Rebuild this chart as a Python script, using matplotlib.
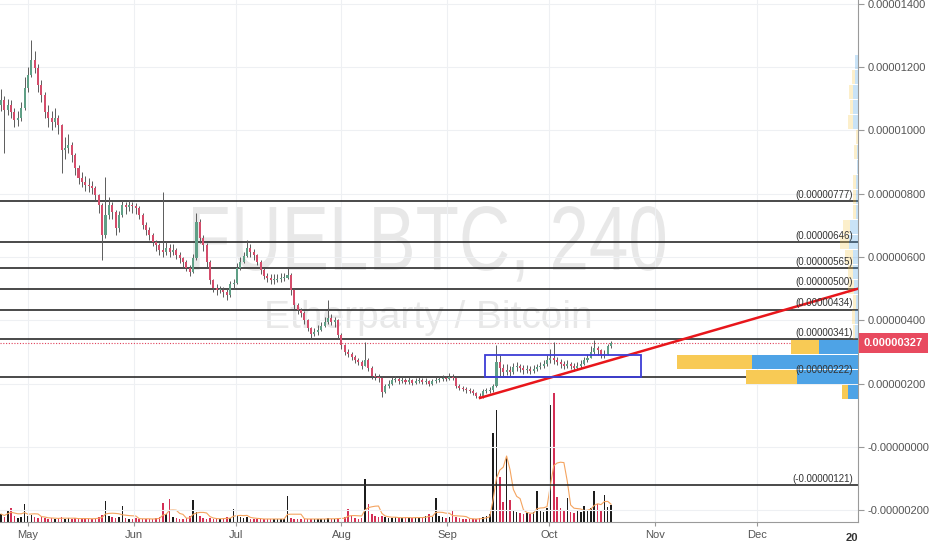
import numpy as np
import pandas as pd
import matplotlib
matplotlib.use('Agg')
import matplotlib.pyplot as plt
import matplotlib.dates as mdates
import matplotlib.transforms as mtransforms
from matplotlib.font_manager import FontProperties
from matplotlib.textpath import TextPath
from matplotlib.patches import Rectangle, PathPatch

plt.rcParams['font.family'] = ['Liberation Sans', 'DejaVu Sans']

# daily candles, FUEL/BTC in satoshi
first_open = 1080
closes = [1096, 1065, 1081, 1058, 1033, 1039, 1071, 1134, 1175, 1223,
          1197, 1144, 1112, 1058, 1039, 1027, 1039, 1017, 938, 945,
          954, 923, 881, 850, 837, 828, 825, 818, 796, 765,
          670, 733, 765, 742, 692, 733, 765, 758, 765, 761,
          755, 733, 701, 686, 670, 648, 638, 622, 616, 629,
          616, 622, 607, 597, 585, 566, 553, 597, 711, 660,
          638, 585, 528, 502, 496, 496, 490, 480, 515, 518,
          566, 585, 603, 629, 616, 607, 585, 559, 540, 534,
          528, 528, 531, 534, 534, 543, 496, 449, 433, 423,
          401, 376, 357, 363, 370, 382, 395, 408, 395, 401,
          354, 322, 300, 294, 284, 275, 269, 256, 275, 250,
          224, 221, 218, 174, 193, 199, 212, 215, 209, 212,
          205, 212, 202, 209, 212, 205, 209, 199, 209, 212,
          215, 218, 215, 221, 218, 193, 186, 183, 180, 177,
          171, 161, 158, 177, 177, 180, 193, 269, 250, 237,
          243, 237, 253, 256, 250, 243, 246, 240, 246, 253,
          256, 262, 275, 281, 275, 269, 262, 256, 262, 256,
          250, 256, 262, 275, 281, 300, 313, 306, 291, 294,
          319, 327]
highs = [1130, 1110, 1100, 1095, 1070, 1060, 1090, 1170, 1200, 1286,
         1250, 1210, 1160, 1120, 1080, 1060, 1070, 1050, 1020, 980,
         990, 965, 930, 890, 870, 855, 850, 840, 825, 800,
         770, 853, 790, 775, 750, 745, 780, 775, 780, 775,
         770, 760, 740, 710, 695, 675, 655, 645, 806, 650,
         640, 640, 630, 615, 600, 590, 575, 610, 740, 720,
         670, 645, 590, 530, 515, 510, 505, 500, 525, 530,
         580, 600, 615, 654, 640, 625, 610, 590, 565, 550,
         545, 545, 545, 550, 550, 566, 550, 500, 455, 440,
         430, 405, 380, 375, 385, 395, 410, 464, 420, 410,
         405, 360, 325, 310, 300, 290, 280, 275, 332, 280,
         255, 235, 230, 220, 200, 210, 220, 225, 222, 222,
         218, 220, 215, 218, 220, 218, 218, 212, 215, 222,
         225, 228, 225, 235, 230, 220, 198, 192, 188, 185,
         182, 175, 170, 182, 185, 188, 200, 322, 290, 262,
         262, 255, 265, 270, 262, 258, 258, 255, 258, 262,
         268, 275, 290, 310, 332, 285, 278, 272, 275, 270,
         265, 268, 275, 285, 295, 320, 338, 320, 310, 305,
         325, 336]
lows = [1060, 929, 1050, 1040, 1010, 1015, 1030, 1065, 1120, 1170,
        1180, 1120, 1090, 1040, 1010, 1000, 1010, 990, 866, 910,
        930, 900, 860, 830, 820, 810, 805, 800, 780, 740,
        591, 660, 720, 720, 670, 680, 725, 735, 745, 740,
        735, 720, 690, 670, 655, 635, 620, 605, 600, 605,
        600, 605, 595, 580, 570, 555, 540, 550, 590, 645,
        620, 570, 515, 490, 480, 485, 475, 465, 475, 500,
        515, 560, 580, 600, 600, 590, 575, 545, 530, 520,
        515, 515, 520, 520, 525, 530, 480, 435, 420, 410,
        390, 365, 345, 350, 355, 365, 380, 390, 385, 380,
        340, 310, 290, 285, 275, 265, 260, 245, 255, 240,
        215, 210, 205, 158, 170, 185, 195, 205, 200, 202,
        198, 200, 195, 198, 202, 198, 200, 192, 195, 202,
        205, 208, 208, 210, 210, 185, 180, 176, 172, 170,
        165, 155, 154, 155, 170, 172, 175, 190, 225, 225,
        228, 225, 232, 240, 238, 232, 235, 230, 235, 240,
        245, 248, 255, 265, 262, 258, 250, 245, 250, 245,
        240, 245, 250, 258, 268, 280, 295, 290, 280, 282,
        290, 312]
volumes = [8, 5, 12, 14, 6, 4, 5, 18, 6, 7,
           5, 4, 5, 4, 3, 4, 3, 4, 5, 3,
           4, 3, 4, 3, 3, 4, 3, 3, 4, 5,
           7, 21, 6, 5, 4, 5, 16, 4, 3, 3,
           4, 3, 3, 3, 3, 3, 4, 5, 19, 8,
           23, 5, 4, 3, 3, 4, 6, 22, 10, 6,
           4, 3, 4, 3, 3, 3, 4, 5, 4, 13,
           6, 5, 4, 5, 3, 3, 3, 3, 3, 3,
           3, 3, 3, 3, 3, 26, 4, 3, 3, 3,
           3, 3, 3, 3, 3, 3, 3, 4, 3, 3,
           4, 4, 5, 13, 6, 4, 3, 4, 43, 18,
           8, 6, 5, 6, 5, 4, 4, 5, 4, 4,
           5, 4, 4, 5, 4, 5, 6, 8, 5, 24,
           6, 5, 4, 5, 12, 5, 4, 3, 3, 3,
           3, 3, 4, 5, 6, 8, 89, 112, 45, 20,
           64, 22, 12, 10, 9, 8, 9, 8, 10, 31,
           12, 10, 14, 117, 129, 25, 14, 12, 24, 10,
           9, 12, 10, 16, 12, 14, 31, 18, 12, 27,
           15, 17]

# drawn levels (satoshi) and last price
levels = [777, 646, 565, 500, 434, 341, 222, -121]
last_price = 327
trend_start = ('2017-09-10 16:00', 155)
trend_end = ('2017-12-30 14:00', 500)
box_dates = ('2017-09-12 03:00', '2017-10-27 22:00')
box_prices = (221, 291)

# visible range volume profile (rows bottom -> top)
profile_low, profile_high = 150, 1287
profile_up = [6, 51, 75, 28, 2, 3, 3, 6, 5, 8, 9, 7, 3, 3, 3, 0, 3, 2, 5, 3, 4, 3, 0, 0]
profile_down = [10, 61, 106, 39, 3, 3, 2, 4, 5, 5, 9, 8, 2, 2, 2, 1, 1, 0, 5, 5, 5, 3, 3, 0]
value_area = [0, 1, 2, 3]

months = ['2017-05-01', '2017-06-01', '2017-07-01', '2017-08-01', '2017-09-01',
          '2017-10-01', '2017-11-01', '2017-12-01']
month_labels = ['May', 'Jun', 'Jul', 'Aug', 'Sep', 'Oct', 'Nov', 'Dec']

dates = pd.date_range('2017-04-23 02:00', '2017-10-19 03:00', periods=len(closes))
x = mdates.date2num(dates)
c = np.array(closes, float)
o = np.array([first_open] + closes[:-1], float)
up = c >= o

fig = plt.figure(figsize=(9.32, 5.5), dpi=100)
ax = fig.add_axes([0, 28 / 550, 858 / 932, 522 / 550])
ax2 = ax.twinx()
ax.set_zorder(2)
ax2.set_zorder(1)
ax.patch.set_visible(False)

ax.set_xlim(mdates.date2num(pd.Timestamp('2017-04-22 19:00')),
            mdates.date2num(pd.Timestamp('2017-12-30 14:00')))
ax.set_ylim(-237, 1412)

# watermark: symbol squeezed into its box, description as plain text
prop = FontProperties(family='Liberation Sans')
wm = TextPath((0, 0), 'FUELBTC, 240', size=1, prop=prop)
cap = TextPath((0, 0), 'F', size=1, prop=prop).get_extents()
ext = wm.get_extents()
bx0, bx1 = 193 / 858, 665 / 858
by0, by1 = (522 - 270) / 522, (522 - 207) / 522
wm_tr = (mtransforms.Affine2D().translate(-ext.x0, 0)
         .scale((bx1 - bx0) / ext.width, (by1 - by0) / cap.y1)
         .translate(bx0, by0) + ax.transAxes)
ax.add_patch(PathPatch(wm, transform=wm_tr, fc='#e8e8e8', ec='none', zorder=0))
ax.text(0.499, 0.39, 'Etherparty / Bitcoin', transform=ax.transAxes, ha='center', va='center',
        fontsize=28, color='#e8e8e8', zorder=0)

# candles
ax.vlines(x, lows, highs, color='#5b5b5b', lw=0.7, zorder=3)
body = np.maximum(np.abs(c - o), 2)
ax.bar(x, body, bottom=np.minimum(o, c), width=0.6,
       color=np.where(up, '#5f9f86', '#d44d6b'), zorder=4)

# level lines
lab_tr = mtransforms.blended_transform_factory(ax.transAxes, ax.transData)
for lv in levels:
    ax.axhline(lv, color='#2b2b2b', lw=1.2, zorder=2)
    s = f"{abs(lv) / 1e8:.8f}"
    if lv < 0:
        s = '-' + s
    ax.annotate('(' + s + ')', xy=(0.994, lv), xycoords=lab_tr, xytext=(0, 1),
                textcoords='offset points', ha='right', va='bottom', fontsize=7,
                color='#333333', zorder=6)

ax.axhline(last_price, color='#e0405a', lw=0.8, ls=(0, (1, 1.5)), zorder=2)

t0 = mdates.date2num(pd.Timestamp(trend_start[0]))
t1 = mdates.date2num(pd.Timestamp(trend_end[0]))
ax.plot([t0, t1], [trend_start[1], trend_end[1]], color='#e8161b', lw=1.8, zorder=5)

b0 = mdates.date2num(pd.Timestamp(box_dates[0]))
b1 = mdates.date2num(pd.Timestamp(box_dates[1]))
ax.add_patch(Rectangle((b0, box_prices[0]), b1 - b0, box_prices[1] - box_prices[0],
                       fill=False, ec='#3d3dd6', lw=1.3, zorder=5))

# volume profile
nrows = len(profile_up)
step = (profile_high - profile_low) / nrows
tot = np.array(profile_up) + np.array(profile_down)
scale = (181 / 858) / tot.max()
for i in range(nrows):
    alpha = 1.0 if i in value_area else 0.3
    y0 = profile_low + i * step + step * 0.04
    wd = profile_down[i] * scale
    wu = profile_up[i] * scale
    ax.add_patch(Rectangle((1 - wd, y0), wd, step * 0.92, transform=lab_tr,
                           fc='#4ea3e6', ec='none', alpha=alpha, zorder=3))
    ax.add_patch(Rectangle((1 - wd - wu, y0), wu, step * 0.92, transform=lab_tr,
                           fc='#f8ca55', ec='none', alpha=alpha, zorder=3))

# volume
v = np.array(volumes, float)
ax2.bar(x, v, width=0.45, color=np.where(up, '#1c1c1c', '#d32f55'), zorder=2)
ax2.plot(x, pd.Series(v).rolling(5, min_periods=1).mean(), color='#f4a460', lw=0.8, zorder=3)
ax2.set_ylim(0, 522)
ax2.set_yticks([])
for sp in ax2.spines.values():
    sp.set_visible(False)

# axes styling
ax.yaxis.tick_right()
ax.set_yticks(np.arange(-200, 1401, 200))
ax.yaxis.set_major_formatter(plt.FuncFormatter(
    lambda val, pos: ('-' if val <= 0 else '') + f"{abs(val) / 1e8:.8f}"))
ax.set_xticks(mdates.date2num(pd.to_datetime(months)))
ax.set_xticklabels(month_labels)
ax.tick_params(axis='y', length=4, color='#999999', labelcolor='#555555', labelsize=8, pad=3)
ax.tick_params(axis='x', length=3, color='#999999', labelcolor='#555555', labelsize=8, pad=3)
ax.grid(True, color='#eef0f3', lw=0.8)
ax.set_axisbelow(True)
for side in ['top', 'left']:
    ax.spines[side].set_visible(False)
for side in ['right', 'bottom']:
    ax.spines[side].set_color('#9a9a9a')

ax.annotate('0.00000327', xy=(1.0, last_price), xycoords=lab_tr, xytext=(4, 0),
            textcoords='offset points', ha='left', va='center', color='white', fontsize=8,
            fontweight='bold', bbox=dict(boxstyle='square,pad=0.45', fc='#e84a5f', ec='none'),
            annotation_clip=False, zorder=10)

yr = ax.text(1.0 - 12 / 858, -16 / 522, '2018', transform=ax.transAxes,
             ha='left', va='center', fontsize=8, fontweight='bold', color='#333333')
yr.set_clip_box(mtransforms.TransformedBbox(mtransforms.Bbox.from_extents(0, 0, 858 / 932, 1),
                                            fig.transFigure))
yr.set_clip_on(True)

fig.savefig('out.png', dpi=100, facecolor='white')
